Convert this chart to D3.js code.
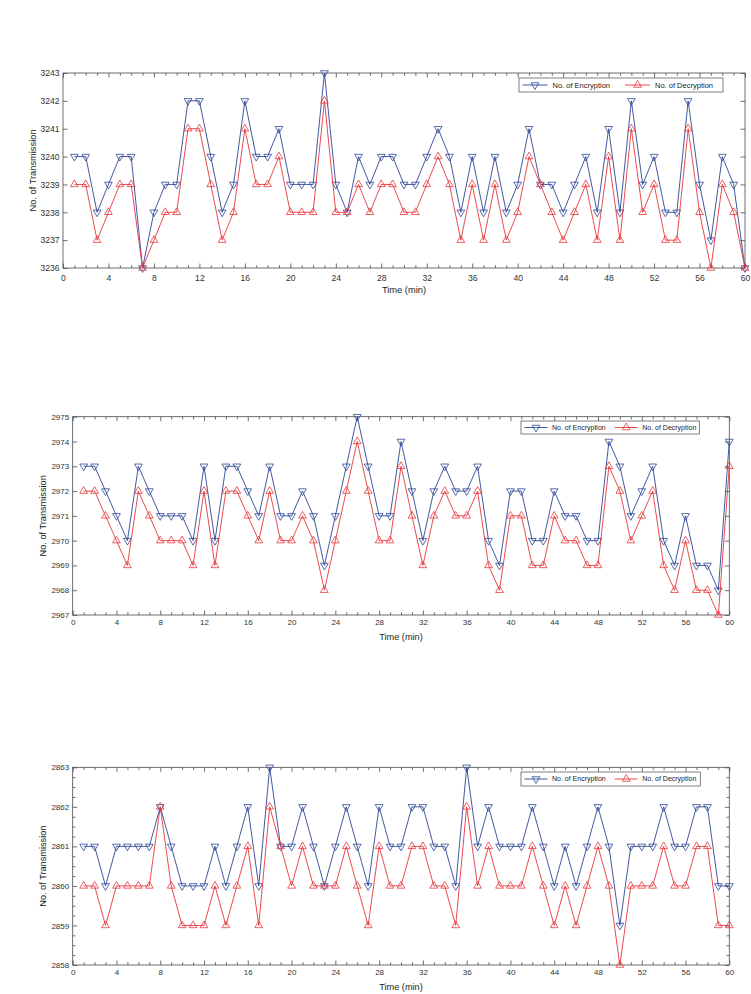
<!DOCTYPE html>
<html>
<head>
<meta charset="utf-8">
<script src="https://cdnjs.cloudflare.com/ajax/libs/d3/7.8.5/d3.min.js"></script>
<style>
body{margin:0;background:#fff;}
svg{display:block;}
text{font-family:"Liberation Sans",Arial,Helvetica,sans-serif;}
</style>
</head>
<body>
<script>
// time axis (minutes) shared by the three runs
var time = [1,2,3,4,5,6,7,8,9,10,11,12,13,14,15,16,17,18,19,20,
            21,22,23,24,25,26,27,28,29,30,31,32,33,34,35,36,37,38,39,40,
            41,42,43,44,45,46,47,48,49,50,51,52,53,54,55,56,57,58,59,60];
var xTicks = [0,4,8,12,16,20,24,28,32,36,40,44,48,52,56,60];
var seriesNames = ['No. of Encryption','No. of Decryption'];

// run 1
var enc1 = [3240,3240,3238,3239,3240,3240,3236,3238,3239,3239,
            3242,3242,3240,3238,3239,3242,3240,3240,3241,3239,
            3239,3239,3243,3239,3238,3240,3239,3240,3240,3239,
            3239,3240,3241,3240,3238,3240,3238,3240,3238,3239,
            3241,3239,3239,3238,3239,3240,3238,3241,3238,3242,
            3239,3240,3238,3238,3242,3239,3237,3240,3239,3236];
var dec1 = [3239,3239,3237,3238,3239,3239,3236,3237,3238,3238,
            3241,3241,3239,3237,3238,3241,3239,3239,3240,3238,
            3238,3238,3242,3238,3238,3239,3238,3239,3239,3238,
            3238,3239,3240,3239,3237,3239,3237,3239,3237,3238,
            3240,3239,3238,3237,3238,3239,3237,3240,3237,3241,
            3238,3239,3237,3237,3241,3238,3236,3239,3238,3236];
var yTicks1 = [3236,3237,3238,3239,3240,3241,3242,3243];

// run 2
var enc2 = [2973,2973,2972,2971,2970,2973,2972,2971,2971,2971,
            2970,2973,2970,2973,2973,2972,2971,2973,2971,2971,
            2972,2971,2969,2971,2973,2975,2973,2971,2971,2974,
            2972,2970,2972,2973,2972,2972,2973,2970,2969,2972,
            2972,2970,2970,2972,2971,2971,2970,2970,2974,2973,
            2971,2972,2973,2970,2969,2971,2969,2969,2968,2974];
var dec2 = [2972,2972,2971,2970,2969,2972,2971,2970,2970,2970,
            2969,2972,2969,2972,2972,2971,2970,2972,2970,2970,
            2971,2970,2968,2970,2972,2974,2972,2970,2970,2973,
            2971,2969,2971,2972,2971,2971,2972,2969,2968,2971,
            2971,2969,2969,2971,2970,2970,2969,2969,2973,2972,
            2970,2971,2972,2969,2968,2970,2968,2968,2967,2973];
var yTicks2 = [2967,2968,2969,2970,2971,2972,2973,2974,2975];

// run 3
var enc3 = [2861,2861,2860,2861,2861,2861,2861,2862,2861,2860,
            2860,2860,2861,2860,2861,2862,2860,2863,2861,2861,
            2862,2861,2860,2861,2862,2861,2860,2862,2861,2861,
            2862,2862,2861,2861,2860,2863,2861,2862,2861,2861,
            2861,2862,2861,2860,2861,2860,2861,2862,2861,2859,
            2861,2861,2861,2862,2861,2861,2862,2862,2860,2860];
var dec3 = [2860,2860,2859,2860,2860,2860,2860,2862,2860,2859,
            2859,2859,2860,2859,2860,2861,2859,2862,2861,2860,
            2861,2860,2860,2860,2861,2860,2859,2861,2860,2860,
            2861,2861,2860,2860,2859,2862,2860,2861,2860,2860,
            2860,2861,2860,2859,2860,2859,2860,2861,2860,2858,
            2860,2860,2860,2861,2860,2860,2861,2861,2859,2859];
var yTicks3 = [2858,2859,2860,2861,2862,2863];

var blue = '#2c4696';
var red = '#e8363b';
var axisColor = '#4a4a4a';
var textColor = '#333';

var svg = d3.select('body').append('svg')
    .attr('width', 751)
    .attr('height', 994);

var panels = [
  {enc:enc1, dec:dec1, yTicks:yTicks1, yMinor:0,
   left:63, right:745, top:73, bottom:268,
   tickFont:8.6, titleFont:9.3, xLabOff:9.7,
   legLeft:519, legTop:78, legH:14, legFont:7.5,
   legLine:25, legText:30, legGap:15, legPad:10},
  {enc:enc2, dec:dec2, yTicks:yTicks2, yMinor:0,
   left:72.7, right:729.3, top:416.7, bottom:615,
   tickFont:8.0, titleFont:9.2, xLabOff:8,
   legLeft:521, legTop:421, legH:13, legFont:7.0,
   legLine:23, legText:27.5, legGap:9, legPad:3},
  {enc:enc3, dec:dec3, yTicks:yTicks3, yMinor:0.25,
   left:72.7, right:729.3, top:767.3, bottom:965,
   tickFont:8.0, titleFont:9.2, xLabOff:8,
   legLeft:521, legTop:772, legH:14, legFont:7.0,
   legLine:23, legText:27.5, legGap:9, legPad:4}
];

panels.forEach(drawPanel);

function drawPanel(p){
  var x = d3.scaleLinear().domain([0,60]).range([p.left,p.right]);
  var y = d3.scaleLinear()
      .domain([p.yTicks[0], p.yTicks[p.yTicks.length-1]])
      .range([p.bottom,p.top]);
  var g = svg.append('g');
  var major = 4.5, minor = 2.8;

  // minor x ticks, every minute, top and bottom
  var minorX = d3.range(0,61).filter(function(v){return v%4!==0;});
  g.append('g').attr('transform','translate(0,'+p.bottom+')')
    .call(d3.axisBottom(x).tickValues(minorX).tickSize(-minor).tickFormat(''));
  g.append('g').attr('transform','translate(0,'+p.top+')')
    .call(d3.axisTop(x).tickValues(minorX).tickSize(-minor).tickFormat(''));

  // major x ticks with labels
  g.append('g').attr('transform','translate(0,'+p.bottom+')')
    .call(d3.axisBottom(x).tickValues(xTicks).tickSize(-major).tickPadding(p.xLabOff-3.2));
  g.append('g').attr('transform','translate(0,'+p.top+')')
    .call(d3.axisTop(x).tickValues(xTicks).tickSize(-major).tickFormat(''));

  // y ticks
  if(p.yMinor){
    var yMin = p.yTicks[0], yMax = p.yTicks[p.yTicks.length-1];
    var minorY = d3.range(yMin, yMax+1e-6, p.yMinor).filter(function(v){
      return Math.abs(v-Math.round(v))>1e-6;});
    g.append('g').attr('transform','translate('+p.left+',0)')
      .call(d3.axisLeft(y).tickValues(minorY).tickSize(-minor).tickFormat(''));
    g.append('g').attr('transform','translate('+p.right+',0)')
      .call(d3.axisRight(y).tickValues(minorY).tickSize(-minor).tickFormat(''));
  }
  g.append('g').attr('transform','translate('+p.left+',0)')
    .call(d3.axisLeft(y).tickValues(p.yTicks).tickSize(-major).tickPadding(3.5).tickFormat(d3.format('d')));
  g.append('g').attr('transform','translate('+p.right+',0)')
    .call(d3.axisRight(y).tickValues(p.yTicks).tickSize(-major).tickFormat(''));

  g.selectAll('.domain').remove();
  g.selectAll('.tick line').attr('stroke',axisColor).attr('stroke-width',0.8);
  g.selectAll('.tick text').attr('fill',textColor)
    .style('font-size',p.tickFont+'px')
    .style('font-family','"Liberation Sans",Arial,sans-serif');

  // axes box
  g.append('rect')
    .attr('x',p.left).attr('y',p.top)
    .attr('width',p.right-p.left).attr('height',p.bottom-p.top)
    .attr('fill','none').attr('stroke',axisColor).attr('stroke-width',0.8);

  // axis titles
  g.append('text')
    .attr('x',(p.left+p.right)/2)
    .attr('y',p.bottom+21.5)
    .attr('dy','0.35em')
    .attr('text-anchor','middle')
    .attr('fill','#222')
    .style('font-size',p.titleFont+'px')
    .text('Time (min)');
  g.append('text')
    .attr('transform','translate('+(p.left-30)+','+((p.top+p.bottom)/2)+') rotate(-90)')
    .attr('dy','0.35em')
    .attr('text-anchor','middle')
    .attr('fill','#222')
    .style('font-size',p.titleFont+'px')
    .text('No. of Transmission');

  // lines and markers
  var series = [
    {vals:p.enc, color:blue, rot:180},
    {vals:p.dec, color:red, rot:0}
  ];
  var tri = d3.symbol().type(d3.symbolTriangle).size(26);
  series.forEach(function(s){
    var line = d3.line()
      .x(function(d,i){return x(time[i]);})
      .y(function(d){return y(d);});
    g.append('path').datum(s.vals)
      .attr('d',line)
      .attr('fill','none')
      .attr('stroke',s.color)
      .attr('stroke-width',0.9);
    g.selectAll(null).data(s.vals).enter().append('path')
      .attr('d',tri)
      .attr('transform',function(d,i){
        return 'translate('+x(time[i])+','+y(d)+') rotate('+s.rot+')';})
      .attr('fill','none')
      .attr('stroke',s.color)
      .attr('stroke-width',0.8);
  });

  // legend
  var lg = g.append('g');
  var box = lg.append('rect')
    .attr('x',p.legLeft).attr('y',p.legTop)
    .attr('height',p.legH)
    .attr('fill','#fff')
    .attr('stroke',axisColor).attr('stroke-width',0.7);
  var cy = p.legTop + p.legH/2;
  var cx = p.legLeft + 3.5;
  var end = cx;
  series.forEach(function(s,k){
    lg.append('line')
      .attr('x1',cx).attr('x2',cx+p.legLine)
      .attr('y1',cy).attr('y2',cy)
      .attr('stroke',s.color).attr('stroke-width',0.9);
    lg.append('path')
      .attr('d',tri)
      .attr('transform','translate('+(cx+p.legLine/2)+','+cy+') rotate('+s.rot+')')
      .attr('fill','none')
      .attr('stroke',s.color).attr('stroke-width',0.8);
    var t = lg.append('text')
      .attr('x',cx+p.legText).attr('y',cy)
      .attr('dy','0.35em')
      .attr('fill','#222')
      .style('font-size',p.legFont+'px')
      .text(seriesNames[k]);
    end = cx + p.legText + t.node().getComputedTextLength();
    cx = end + p.legGap;
  });
  box.attr('width', end + p.legPad - p.legLeft);
}
</script>
</body>
</html>
